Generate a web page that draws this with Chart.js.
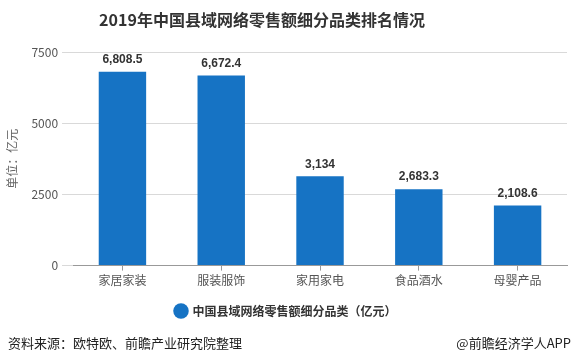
<!DOCTYPE html>
<html>
<head>
<meta charset="utf-8">
<script src="https://cdn.jsdelivr.net/npm/chart.js@4/dist/chart.umd.min.js"></script>
<style>
  html, body { margin: 0; padding: 0; background: #fff; }
  #wrap { width: 576px; height: 364px; position: relative; }
</style>
</head>
<body>
<div id="wrap"><canvas id="myChart" width="576" height="364"></canvas></div>
<script>
'use strict';

// data
let categories = ['家居家装', '服装服饰', '家用家电', '食品酒水', '母婴产品'];
let salesValues = [6808.5, 6672.4, 3134, 2683.3, 2108.6];
let yTicks = [0, 2500, 5000, 7500];

let titleText = '2019年中国县域网络零售额细分品类排名情况';
let seriesName = '中国县域网络零售额细分品类（亿元）';
let yAxisName = '单位：亿元';
let sourceText = '资料来源：欧特欧、前瞻产业研究院整理';
let brandText = '@前瞻经济学人APP';

let cjk = '"Microsoft YaHei", "Noto Sans CJK SC", sans-serif';
let barColor = '#1673c4';

// title, value labels and footer texts
let extraText = {
    id: 'extraText',
    afterDatasetsDraw(chart) {
        let ctx = chart.ctx;
        ctx.save();
        // value labels on top of bars
        let meta = chart.getDatasetMeta(0);
        ctx.font = 'bold 12px "Liberation Sans", Arial, sans-serif';
        ctx.fillStyle = '#333';
        ctx.textAlign = 'center';
        ctx.textBaseline = 'bottom';
        meta.data.forEach(function (bar, i) {
            ctx.fillText(salesValues[i].toLocaleString('en-US'), bar.x, bar.y - 6);
        });
        ctx.restore();
    },
    afterDraw(chart) {
        let ctx = chart.ctx;
        ctx.save();
        ctx.textBaseline = 'middle';
        ctx.fillStyle = '#333';
        ctx.font = 'bold 16px ' + cjk;
        ctx.textAlign = 'center';
        ctx.fillText(titleText, 262, 20);

        ctx.font = '13px ' + cjk;
        ctx.fillStyle = '#222';
        ctx.textAlign = 'left';
        ctx.fillText(sourceText, 8, 343);
        ctx.textAlign = 'right';
        ctx.fillText(brandText, 571, 343);
        ctx.restore();
    }
};

let ctx = document.getElementById('myChart').getContext('2d');
let myChart = new Chart(ctx, {
    type: 'bar',
    data: {
        labels: categories,
        datasets: [{
            label: seriesName,
            data: salesValues,
            backgroundColor: barColor,
            borderWidth: 0,
            categoryPercentage: 1,
            barPercentage: 0.48
        }]
    },
    options: {
        responsive: false,
        animation: false,
        layout: { padding: { top: 52, right: 9, bottom: 37, left: 5 } },
        plugins: {
            legend: {
                position: 'bottom',
                labels: {
                    usePointStyle: true,
                    pointStyle: 'circle',
                    boxWidth: 11,
                    boxHeight: 11,
                    padding: 14,
                    color: '#333',
                    font: { family: cjk, size: 12, weight: 'bold' }
                }
            },
            tooltip: { enabled: false }
        },
        scales: {
            x: {
                grid: {
                    display: true,
                    drawOnChartArea: false,
                    offset: false,
                    tickLength: 5,
                    color: '#999'
                },
                border: { color: '#999' },
                ticks: {
                    color: '#555',
                    padding: 3,
                    font: { family: cjk, size: 12 }
                }
            },
            y: {
                min: 0,
                max: 7500,
                afterBuildTicks(axis) {
                    axis.ticks = yTicks.map(function (v) { return { value: v }; });
                },
                grid: {
                    color: '#d9d9d9',
                    tickLength: 11
                },
                border: { display: false },
                ticks: {
                    color: '#555',
                    padding: 4,
                    font: { family: cjk, size: 12 },
                    callback: function (v) { return String(v); }
                },
                title: {
                    display: true,
                    text: yAxisName,
                    color: '#666',
                    padding: { top: 0, bottom: 8 },
                    font: { family: cjk, size: 12 }
                }
            }
        }
    },
    plugins: [extraText]
});
</script>
</body>
</html>
